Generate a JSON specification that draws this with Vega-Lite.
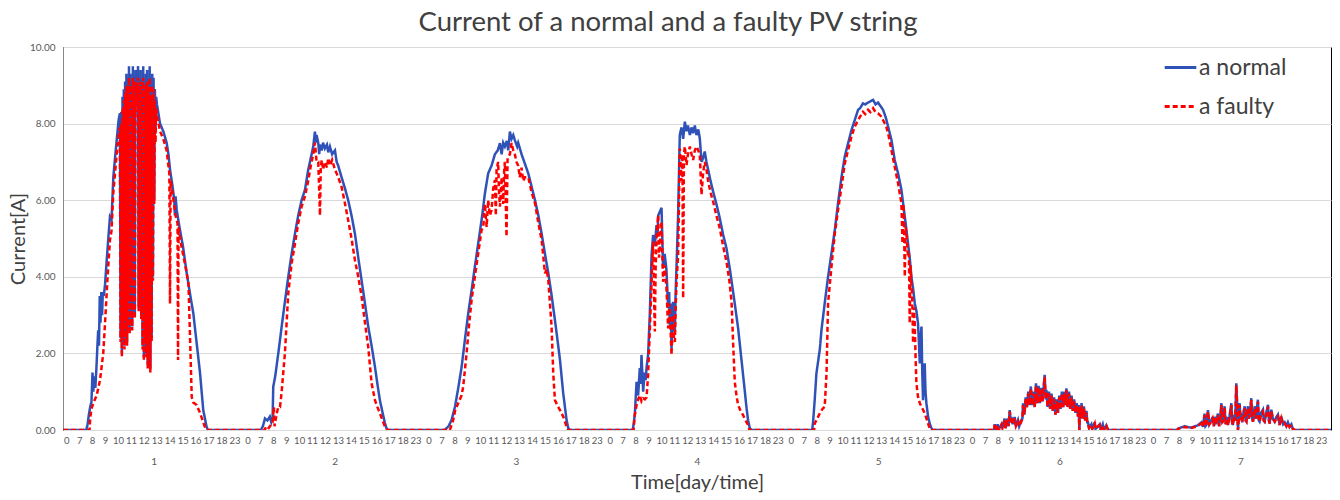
{
"$schema":"https://vega.github.io/schema/vega-lite/v6.json",
"width":1268,"height":383,
"autosize":{"type":"none"},
"padding":{"left":63,"top":47,"right":9,"bottom":70},
"background":"white",
"config":{"font":"Lato","view":{"stroke":"#000","strokeWidth":1}},
"title":{"text":"Current of a normal and a faulty PV string","fontSize":27.5,"font":"Lato","fontWeight":"normal","color":"#404040","dx":-29,"offset":6},
"data":{"values":[
{"s":"a normal","t":0,"v":0},{"s":"a normal","t":1.8,"v":0},{"s":"a normal","t":1.9,"v":0.15},{"s":"a normal","t":2.0,"v":0.4},{"s":"a normal","t":2.1,"v":0.6},{"s":"a normal","t":2.2,"v":0.74},{"s":"a normal","t":2.28,"v":1.5},{"s":"a normal","t":2.34,"v":1.0},{"s":"a normal","t":2.42,"v":1.4},{"s":"a normal","t":2.5,"v":1.1},{"s":"a normal","t":2.58,"v":1.6},{"s":"a normal","t":2.66,"v":2.2},{"s":"a normal","t":2.72,"v":2.6},{"s":"a normal","t":2.78,"v":2.2},{"s":"a normal","t":2.84,"v":3.5},{"s":"a normal","t":2.9,"v":2.8},{"s":"a normal","t":2.96,"v":3.6},{"s":"a normal","t":3.02,"v":3.0},{"s":"a normal","t":3.08,"v":3.6},{"s":"a normal","t":3.15,"v":3.5},{"s":"a normal","t":3.25,"v":3.8},{"s":"a normal","t":3.38,"v":4.44},{"s":"a normal","t":3.5,"v":5.0},{"s":"a normal","t":3.63,"v":5.57},{"s":"a normal","t":3.75,"v":5.5},{"s":"a normal","t":3.89,"v":6.6},{"s":"a normal","t":4.02,"v":7.1},{"s":"a normal","t":4.15,"v":7.57},{"s":"a normal","t":4.3,"v":8.1},{"s":"a normal","t":4.4,"v":8.27},
{"s":"a normal","t":4.45,"v":2.4},{"s":"a normal","t":4.5,"v":8.3},{"s":"a normal","t":4.55,"v":2.0},{"s":"a normal","t":4.6,"v":8.7},{"s":"a normal","t":4.65,"v":2.6},{"s":"a normal","t":4.7,"v":8.9},{"s":"a normal","t":4.75,"v":2.2},{"s":"a normal","t":4.8,"v":9.1},{"s":"a normal","t":4.85,"v":3.0},{"s":"a normal","t":4.9,"v":9.3},{"s":"a normal","t":4.95,"v":2.3},{"s":"a normal","t":5.0,"v":9.2},{"s":"a normal","t":5.05,"v":3.5},{"s":"a normal","t":5.1,"v":9.5},{"s":"a normal","t":5.15,"v":2.6},{"s":"a normal","t":5.2,"v":9.3},{"s":"a normal","t":5.25,"v":4.0},{"s":"a normal","t":5.3,"v":9.1},{"s":"a normal","t":5.35,"v":2.7},{"s":"a normal","t":5.4,"v":9.5},{"s":"a normal","t":5.45,"v":5.5},{"s":"a normal","t":5.5,"v":9.0},{"s":"a normal","t":5.55,"v":3.0},{"s":"a normal","t":5.6,"v":9.4},{"s":"a normal","t":5.65,"v":8.6},{"s":"a normal","t":5.7,"v":9.3},{"s":"a normal","t":5.75,"v":8.8},{"s":"a normal","t":5.8,"v":9.5},{"s":"a normal","t":5.85,"v":3.2},{"s":"a normal","t":5.9,"v":9.2},{"s":"a normal","t":5.95,"v":4.5},{"s":"a normal","t":6.0,"v":9.4},{"s":"a normal","t":6.05,"v":3.0},{"s":"a normal","t":6.1,"v":9.1},{"s":"a normal","t":6.15,"v":2.2},{"s":"a normal","t":6.2,"v":9.5},{"s":"a normal","t":6.25,"v":1.9},{"s":"a normal","t":6.3,"v":9.0},{"s":"a normal","t":6.35,"v":2.4},{"s":"a normal","t":6.4,"v":9.3},{"s":"a normal","t":6.45,"v":2.0},{"s":"a normal","t":6.5,"v":9.4},{"s":"a normal","t":6.55,"v":1.7},{"s":"a normal","t":6.6,"v":9.1},{"s":"a normal","t":6.65,"v":2.8},{"s":"a normal","t":6.7,"v":9.5},{"s":"a normal","t":6.75,"v":1.6},{"s":"a normal","t":6.8,"v":9.0},{"s":"a normal","t":6.85,"v":2.4},{"s":"a normal","t":6.9,"v":9.3},{"s":"a normal","t":6.95,"v":4.0},{"s":"a normal","t":7.0,"v":9.2},{"s":"a normal","t":7.05,"v":6.0},{"s":"a normal","t":7.1,"v":8.9},{"s":"a normal","t":7.15,"v":7.8},{"s":"a normal","t":7.2,"v":8.7},
{"s":"a normal","t":7.26,"v":8.5},{"s":"a normal","t":7.5,"v":8.0},{"s":"a normal","t":7.75,"v":7.8},{"s":"a normal","t":8.01,"v":7.5},{"s":"a normal","t":8.15,"v":7.2},{"s":"a normal","t":8.27,"v":6.8},{"s":"a normal","t":8.45,"v":6.4},{"s":"a normal","t":8.6,"v":6.0},{"s":"a normal","t":8.65,"v":5.6},{"s":"a normal","t":8.7,"v":6.1},{"s":"a normal","t":8.79,"v":5.74},{"s":"a normal","t":9.0,"v":5.3},{"s":"a normal","t":9.27,"v":4.8},{"s":"a normal","t":9.56,"v":4.1},{"s":"a normal","t":9.81,"v":3.57},{"s":"a normal","t":10.07,"v":3.05},{"s":"a normal","t":10.33,"v":2.27},{"s":"a normal","t":10.59,"v":1.49},{"s":"a normal","t":10.84,"v":0.52},{"s":"a normal","t":11.1,"v":0.08},{"s":"a normal","t":11.2,"v":0},
{"s":"a normal","t":15.3,"v":0},{"s":"a normal","t":15.45,"v":0.1},{"s":"a normal","t":15.61,"v":0.3},{"s":"a normal","t":15.8,"v":0.25},{"s":"a normal","t":15.99,"v":0.35},{"s":"a normal","t":16.1,"v":0.2},{"s":"a normal","t":16.2,"v":0.3},{"s":"a normal","t":16.25,"v":1.13},{"s":"a normal","t":16.4,"v":1.4},{"s":"a normal","t":16.64,"v":2.0},{"s":"a normal","t":16.9,"v":2.7},{"s":"a normal","t":17.15,"v":3.35},{"s":"a normal","t":17.41,"v":4.0},{"s":"a normal","t":17.67,"v":4.6},{"s":"a normal","t":17.93,"v":5.13},{"s":"a normal","t":18.18,"v":5.6},{"s":"a normal","t":18.44,"v":6.0},{"s":"a normal","t":18.7,"v":6.27},{"s":"a normal","t":18.95,"v":6.79},{"s":"a normal","t":19.15,"v":7.1},{"s":"a normal","t":19.34,"v":7.4},{"s":"a normal","t":19.47,"v":7.79},{"s":"a normal","t":19.55,"v":7.5},{"s":"a normal","t":19.6,"v":7.7},{"s":"a normal","t":19.73,"v":7.49},{"s":"a normal","t":19.8,"v":7.2},{"s":"a normal","t":19.86,"v":7.45},{"s":"a normal","t":19.99,"v":7.3},{"s":"a normal","t":20.1,"v":7.5},{"s":"a normal","t":20.24,"v":7.35},{"s":"a normal","t":20.4,"v":7.45},{"s":"a normal","t":20.5,"v":7.25},{"s":"a normal","t":20.63,"v":7.4},{"s":"a normal","t":20.8,"v":7.2},{"s":"a normal","t":21.02,"v":7.3},{"s":"a normal","t":21.15,"v":7.0},{"s":"a normal","t":21.27,"v":6.9},{"s":"a normal","t":21.53,"v":6.6},{"s":"a normal","t":21.8,"v":6.3},{"s":"a normal","t":22.04,"v":6.0},{"s":"a normal","t":22.3,"v":5.6},{"s":"a normal","t":22.56,"v":5.13},{"s":"a normal","t":22.82,"v":4.5},{"s":"a normal","t":23.08,"v":3.9},{"s":"a normal","t":23.34,"v":3.3},{"s":"a normal","t":23.59,"v":2.7},{"s":"a normal","t":23.85,"v":2.2},{"s":"a normal","t":24.11,"v":1.65},{"s":"a normal","t":24.3,"v":1.2},{"s":"a normal","t":24.49,"v":0.78},{"s":"a normal","t":24.7,"v":0.45},{"s":"a normal","t":24.88,"v":0.18},{"s":"a normal","t":25.0,"v":0.05},{"s":"a normal","t":25.1,"v":0},
{"s":"a normal","t":29.5,"v":0},{"s":"a normal","t":29.8,"v":0.1},{"s":"a normal","t":30.03,"v":0.26},{"s":"a normal","t":30.29,"v":0.6},{"s":"a normal","t":30.55,"v":1.1},{"s":"a normal","t":30.81,"v":1.65},{"s":"a normal","t":31.06,"v":2.35},{"s":"a normal","t":31.32,"v":3.05},{"s":"a normal","t":31.58,"v":3.65},{"s":"a normal","t":31.83,"v":4.26},{"s":"a normal","t":32.09,"v":4.87},{"s":"a normal","t":32.35,"v":5.48},{"s":"a normal","t":32.61,"v":6.18},{"s":"a normal","t":32.86,"v":6.7},{"s":"a normal","t":33.12,"v":6.9},{"s":"a normal","t":33.38,"v":7.2},{"s":"a normal","t":33.6,"v":7.3},{"s":"a normal","t":33.77,"v":7.49},{"s":"a normal","t":33.9,"v":7.2},{"s":"a normal","t":34.02,"v":7.5},{"s":"a normal","t":34.15,"v":7.4},{"s":"a normal","t":34.3,"v":7.55},{"s":"a normal","t":34.41,"v":7.3},{"s":"a normal","t":34.54,"v":7.79},{"s":"a normal","t":34.67,"v":7.6},{"s":"a normal","t":34.8,"v":7.7},{"s":"a normal","t":34.92,"v":7.57},{"s":"a normal","t":35.1,"v":7.4},{"s":"a normal","t":35.18,"v":7.5},{"s":"a normal","t":35.44,"v":7.2},{"s":"a normal","t":35.7,"v":6.95},{"s":"a normal","t":35.96,"v":6.7},{"s":"a normal","t":36.22,"v":6.35},{"s":"a normal","t":36.48,"v":6.0},{"s":"a normal","t":36.74,"v":5.6},{"s":"a normal","t":36.99,"v":5.13},{"s":"a normal","t":37.25,"v":4.6},{"s":"a normal","t":37.51,"v":4.09},{"s":"a normal","t":37.77,"v":3.5},{"s":"a normal","t":38.02,"v":2.87},{"s":"a normal","t":38.2,"v":2.4},{"s":"a normal","t":38.41,"v":1.83},{"s":"a normal","t":38.66,"v":0.96},{"s":"a normal","t":38.92,"v":0.26},{"s":"a normal","t":39.05,"v":0.05},{"s":"a normal","t":39.17,"v":0},
{"s":"a normal","t":44.0,"v":0},{"s":"a normal","t":44.06,"v":0.05},{"s":"a normal","t":44.19,"v":0.39},{"s":"a normal","t":44.33,"v":1.26},{"s":"a normal","t":44.45,"v":0.9},{"s":"a normal","t":44.58,"v":1.62},{"s":"a normal","t":44.65,"v":1.2},{"s":"a normal","t":44.71,"v":1.96},{"s":"a normal","t":44.84,"v":1.0},{"s":"a normal","t":44.95,"v":1.5},{"s":"a normal","t":45.03,"v":1.3},{"s":"a normal","t":45.1,"v":1.62},{"s":"a normal","t":45.22,"v":1.96},{"s":"a normal","t":45.35,"v":3.0},{"s":"a normal","t":45.49,"v":4.57},{"s":"a normal","t":45.61,"v":5.09},{"s":"a normal","t":45.74,"v":4.8},{"s":"a normal","t":45.87,"v":5.35},{"s":"a normal","t":45.95,"v":5.1},{"s":"a normal","t":46.0,"v":5.6},{"s":"a normal","t":46.13,"v":5.7},{"s":"a normal","t":46.26,"v":5.8},{"s":"a normal","t":46.32,"v":5.0},{"s":"a normal","t":46.38,"v":4.23},{"s":"a normal","t":46.5,"v":4.6},{"s":"a normal","t":46.64,"v":4.18},{"s":"a normal","t":46.77,"v":3.18},{"s":"a normal","t":46.85,"v":3.6},{"s":"a normal","t":46.9,"v":2.74},{"s":"a normal","t":46.97,"v":3.3},{"s":"a normal","t":47.03,"v":2.13},{"s":"a normal","t":47.1,"v":2.9},{"s":"a normal","t":47.15,"v":3.35},{"s":"a normal","t":47.22,"v":2.6},{"s":"a normal","t":47.29,"v":2.57},{"s":"a normal","t":47.35,"v":3.6},{"s":"a normal","t":47.42,"v":4.3},{"s":"a normal","t":47.54,"v":5.61},{"s":"a normal","t":47.67,"v":7.7},{"s":"a normal","t":47.8,"v":7.9},{"s":"a normal","t":47.93,"v":7.6},{"s":"a normal","t":48.06,"v":8.05},{"s":"a normal","t":48.19,"v":7.8},{"s":"a normal","t":48.3,"v":7.95},{"s":"a normal","t":48.45,"v":7.7},{"s":"a normal","t":48.58,"v":7.9},{"s":"a normal","t":48.7,"v":7.75},{"s":"a normal","t":48.83,"v":7.95},{"s":"a normal","t":48.96,"v":7.7},{"s":"a normal","t":49.1,"v":7.85},{"s":"a normal","t":49.22,"v":7.6},{"s":"a normal","t":49.35,"v":7.0},{"s":"a normal","t":49.47,"v":7.1},{"s":"a normal","t":49.6,"v":7.27},{"s":"a normal","t":49.73,"v":7.0},{"s":"a normal","t":49.86,"v":6.8},{"s":"a normal","t":50.05,"v":6.5},{"s":"a normal","t":50.25,"v":6.22},{"s":"a normal","t":50.5,"v":5.9},{"s":"a normal","t":50.76,"v":5.53},{"s":"a normal","t":51.02,"v":5.1},{"s":"a normal","t":51.28,"v":4.74},{"s":"a normal","t":51.54,"v":4.2},{"s":"a normal","t":51.79,"v":3.61},{"s":"a normal","t":52.0,"v":3.1},{"s":"a normal","t":52.18,"v":2.65},{"s":"a normal","t":52.37,"v":2.05},{"s":"a normal","t":52.56,"v":1.44},{"s":"a normal","t":52.7,"v":1.0},{"s":"a normal","t":52.83,"v":0.57},{"s":"a normal","t":52.95,"v":0.25},{"s":"a normal","t":53.08,"v":0.05},{"s":"a normal","t":53.2,"v":0},
{"s":"a normal","t":57.9,"v":0},{"s":"a normal","t":57.97,"v":0.2},{"s":"a normal","t":58.1,"v":0.8},{"s":"a normal","t":58.23,"v":1.48},{"s":"a normal","t":58.49,"v":2.1},{"s":"a normal","t":58.62,"v":2.61},{"s":"a normal","t":58.87,"v":3.31},{"s":"a normal","t":59.13,"v":4.0},{"s":"a normal","t":59.39,"v":4.61},{"s":"a normal","t":59.65,"v":5.22},{"s":"a normal","t":59.9,"v":5.92},{"s":"a normal","t":60.17,"v":6.61},{"s":"a normal","t":60.42,"v":7.14},{"s":"a normal","t":60.68,"v":7.49},{"s":"a normal","t":60.94,"v":7.83},{"s":"a normal","t":61.19,"v":8.09},{"s":"a normal","t":61.45,"v":8.36},{"s":"a normal","t":61.6,"v":8.4},{"s":"a normal","t":61.83,"v":8.53},{"s":"a normal","t":62.0,"v":8.5},{"s":"a normal","t":62.22,"v":8.55},{"s":"a normal","t":62.4,"v":8.58},{"s":"a normal","t":62.61,"v":8.62},{"s":"a normal","t":62.8,"v":8.5},{"s":"a normal","t":62.99,"v":8.55},{"s":"a normal","t":63.2,"v":8.45},{"s":"a normal","t":63.38,"v":8.36},{"s":"a normal","t":63.6,"v":8.15},{"s":"a normal","t":63.77,"v":7.92},{"s":"a normal","t":64.03,"v":7.57},{"s":"a normal","t":64.28,"v":7.05},{"s":"a normal","t":64.54,"v":6.7},{"s":"a normal","t":64.8,"v":6.27},{"s":"a normal","t":65.06,"v":5.57},{"s":"a normal","t":65.19,"v":5.22},{"s":"a normal","t":65.31,"v":4.87},{"s":"a normal","t":65.44,"v":4.5},{"s":"a normal","t":65.57,"v":4.0},{"s":"a normal","t":65.7,"v":3.7},{"s":"a normal","t":65.83,"v":3.31},{"s":"a normal","t":65.96,"v":3.1},{"s":"a normal","t":66.08,"v":2.79},{"s":"a normal","t":66.15,"v":2.3},{"s":"a normal","t":66.22,"v":1.74},{"s":"a normal","t":66.28,"v":2.4},{"s":"a normal","t":66.35,"v":2.7},{"s":"a normal","t":66.41,"v":1.5},{"s":"a normal","t":66.47,"v":0.78},{"s":"a normal","t":66.53,"v":1.3},{"s":"a normal","t":66.6,"v":1.74},{"s":"a normal","t":66.66,"v":1.0},{"s":"a normal","t":66.73,"v":0.7},{"s":"a normal","t":66.86,"v":0.35},{"s":"a normal","t":67.0,"v":0.15},{"s":"a normal","t":67.12,"v":0.05},{"s":"a normal","t":67.2,"v":0},
{"s":"a normal","t":71.95,"v":0},{"s":"a normal","t":72.01,"v":0.15},{"s":"a normal","t":72.1,"v":0},{"s":"a normal","t":72.24,"v":0.15},{"s":"a normal","t":72.3,"v":0},{"s":"a normal","t":72.53,"v":0.15},{"s":"a normal","t":72.6,"v":0.05},{"s":"a normal","t":72.78,"v":0.3},{"s":"a normal","t":72.85,"v":0.05},{"s":"a normal","t":73.01,"v":0.3},{"s":"a normal","t":73.08,"v":0.1},{"s":"a normal","t":73.17,"v":0.52},{"s":"a normal","t":73.25,"v":0.2},{"s":"a normal","t":73.3,"v":0.34},{"s":"a normal","t":73.4,"v":0.15},{"s":"a normal","t":73.55,"v":0.34},{"s":"a normal","t":73.65,"v":0.1},{"s":"a normal","t":73.81,"v":0.26},{"s":"a normal","t":73.9,"v":0.1},{"s":"a normal","t":74.07,"v":0.26},{"s":"a normal","t":74.15,"v":0.3},{"s":"a normal","t":74.2,"v":0.7},{"s":"a normal","t":74.3,"v":0.4},{"s":"a normal","t":74.4,"v":0.85},{"s":"a normal","t":74.5,"v":0.6},{"s":"a normal","t":74.6,"v":1.0},{"s":"a normal","t":74.7,"v":0.65},{"s":"a normal","t":74.8,"v":1.14},{"s":"a normal","t":74.9,"v":0.65},{"s":"a normal","t":75.0,"v":1.0},{"s":"a normal","t":75.1,"v":0.6},{"s":"a normal","t":75.2,"v":1.22},{"s":"a normal","t":75.3,"v":0.7},{"s":"a normal","t":75.4,"v":1.15},{"s":"a normal","t":75.5,"v":0.7},{"s":"a normal","t":75.6,"v":1.1},{"s":"a normal","t":75.7,"v":0.75},{"s":"a normal","t":75.87,"v":1.44},{"s":"a normal","t":75.95,"v":0.8},{"s":"a normal","t":76.0,"v":1.05},{"s":"a normal","t":76.1,"v":0.6},{"s":"a normal","t":76.2,"v":1.0},{"s":"a normal","t":76.3,"v":0.55},{"s":"a normal","t":76.4,"v":0.95},{"s":"a normal","t":76.5,"v":0.5},{"s":"a normal","t":76.6,"v":0.85},{"s":"a normal","t":76.7,"v":0.4},{"s":"a normal","t":76.8,"v":0.8},{"s":"a normal","t":76.9,"v":0.45},{"s":"a normal","t":77.0,"v":0.9},{"s":"a normal","t":77.1,"v":0.55},{"s":"a normal","t":77.2,"v":1.0},{"s":"a normal","t":77.3,"v":0.6},{"s":"a normal","t":77.4,"v":1.0},{"s":"a normal","t":77.5,"v":0.65},{"s":"a normal","t":77.55,"v":1.09},{"s":"a normal","t":77.65,"v":0.6},{"s":"a normal","t":77.75,"v":1.0},{"s":"a normal","t":77.85,"v":0.55},{"s":"a normal","t":77.95,"v":0.9},{"s":"a normal","t":78.05,"v":0.5},{"s":"a normal","t":78.15,"v":0.8},{"s":"a normal","t":78.25,"v":0.45},{"s":"a normal","t":78.35,"v":0.7},{"s":"a normal","t":78.45,"v":0.35},{"s":"a normal","t":78.5,"v":0.65},{"s":"a normal","t":78.55,"v":0.0},{"s":"a normal","t":78.6,"v":0.6},{"s":"a normal","t":78.65,"v":0.3},{"s":"a normal","t":78.72,"v":0.7},{"s":"a normal","t":78.8,"v":0.3},{"s":"a normal","t":78.9,"v":0.62},{"s":"a normal","t":79.0,"v":0.25},{"s":"a normal","t":79.1,"v":0.5},{"s":"a normal","t":79.16,"v":0.2},{"s":"a normal","t":79.22,"v":0.2},{"s":"a normal","t":79.3,"v":0.05},{"s":"a normal","t":79.48,"v":0.15},{"s":"a normal","t":79.55,"v":0.03},{"s":"a normal","t":79.74,"v":0.2},{"s":"a normal","t":79.8,"v":0.03},{"s":"a normal","t":80.12,"v":0.15},{"s":"a normal","t":80.2,"v":0},{"s":"a normal","t":80.36,"v":0.15},{"s":"a normal","t":80.45,"v":0},{"s":"a normal","t":80.64,"v":0.12},{"s":"a normal","t":80.77,"v":0},
{"s":"a normal","t":86.1,"v":0},{"s":"a normal","t":86.2,"v":0.04},{"s":"a normal","t":86.7,"v":0.1},{"s":"a normal","t":87.15,"v":0.06},{"s":"a normal","t":87.7,"v":0.12},{"s":"a normal","t":87.98,"v":0.2},{"s":"a normal","t":88.1,"v":0.08},{"s":"a normal","t":88.23,"v":0.43},{"s":"a normal","t":88.3,"v":0.1},{"s":"a normal","t":88.37,"v":0.13},{"s":"a normal","t":88.49,"v":0.52},{"s":"a normal","t":88.6,"v":0.15},{"s":"a normal","t":88.75,"v":0.25},{"s":"a normal","t":88.85,"v":0.34},{"s":"a normal","t":88.95,"v":0.1},{"s":"a normal","t":89.01,"v":0.35},{"s":"a normal","t":89.1,"v":0.15},{"s":"a normal","t":89.26,"v":0.43},{"s":"a normal","t":89.35,"v":0.1},{"s":"a normal","t":89.45,"v":0.34},{"s":"a normal","t":89.53,"v":0.7},{"s":"a normal","t":89.6,"v":0.2},{"s":"a normal","t":89.65,"v":0.25},{"s":"a normal","t":89.78,"v":0.62},{"s":"a normal","t":89.85,"v":0.15},{"s":"a normal","t":89.95,"v":0.34},{"s":"a normal","t":90.04,"v":0.13},{"s":"a normal","t":90.15,"v":0.34},{"s":"a normal","t":90.3,"v":0.7},{"s":"a normal","t":90.36,"v":0.2},{"s":"a normal","t":90.42,"v":0.13},{"s":"a normal","t":90.5,"v":0.4},{"s":"a normal","t":90.6,"v":0.25},{"s":"a normal","t":90.68,"v":1.22},{"s":"a normal","t":90.75,"v":0.65},{"s":"a normal","t":90.81,"v":0},{"s":"a normal","t":90.88,"v":0.34},{"s":"a normal","t":90.94,"v":0.7},{"s":"a normal","t":91.0,"v":0.3},{"s":"a normal","t":91.07,"v":0.35},{"s":"a normal","t":91.15,"v":0.2},{"s":"a normal","t":91.25,"v":0.5},{"s":"a normal","t":91.33,"v":0.62},{"s":"a normal","t":91.4,"v":0.25},{"s":"a normal","t":91.46,"v":0.22},{"s":"a normal","t":91.52,"v":0.45},{"s":"a normal","t":91.58,"v":0.62},{"s":"a normal","t":91.65,"v":0.3},{"s":"a normal","t":91.75,"v":0.5},{"s":"a normal","t":91.84,"v":0.83},{"s":"a normal","t":91.9,"v":0.3},{"s":"a normal","t":91.97,"v":0.22},{"s":"a normal","t":92.05,"v":0.45},{"s":"a normal","t":92.1,"v":0.62},{"s":"a normal","t":92.2,"v":0.3},{"s":"a normal","t":92.35,"v":0.79},{"s":"a normal","t":92.42,"v":0.25},{"s":"a normal","t":92.48,"v":0.22},{"s":"a normal","t":92.6,"v":0.45},{"s":"a normal","t":92.74,"v":0.53},{"s":"a normal","t":92.8,"v":0.25},{"s":"a normal","t":92.87,"v":0.22},{"s":"a normal","t":93.0,"v":0.45},{"s":"a normal","t":93.13,"v":0.66},{"s":"a normal","t":93.2,"v":0.25},{"s":"a normal","t":93.26,"v":0.17},{"s":"a normal","t":93.39,"v":0.53},{"s":"a normal","t":93.5,"v":0.3},{"s":"a normal","t":93.65,"v":0.22},{"s":"a normal","t":93.78,"v":0.34},{"s":"a normal","t":93.9,"v":0.4},{"s":"a normal","t":94.03,"v":0.13},{"s":"a normal","t":94.16,"v":0.35},{"s":"a normal","t":94.3,"v":0.15},{"s":"a normal","t":94.42,"v":0.2},{"s":"a normal","t":94.55,"v":0.1},{"s":"a normal","t":94.67,"v":0.2},{"s":"a normal","t":94.8,"v":0.08},{"s":"a normal","t":94.94,"v":0.15},{"s":"a normal","t":95.05,"v":0.03},{"s":"a normal","t":95.19,"v":0},{"s":"a normal","t":98,"v":0},

{"s":"a faulty","t":0,"v":0},{"s":"a faulty","t":2.05,"v":0},{"s":"a faulty","t":2.1,"v":0.3},{"s":"a faulty","t":2.2,"v":0.55},{"s":"a faulty","t":2.34,"v":0.7},{"s":"a faulty","t":2.6,"v":0.9},{"s":"a faulty","t":2.86,"v":1.3},{"s":"a faulty","t":3.11,"v":2.0},{"s":"a faulty","t":3.25,"v":2.8},{"s":"a faulty","t":3.38,"v":3.6},{"s":"a faulty","t":3.5,"v":4.3},{"s":"a faulty","t":3.63,"v":4.96},{"s":"a faulty","t":3.75,"v":5.2},{"s":"a faulty","t":3.89,"v":6.2},{"s":"a faulty","t":4.02,"v":6.7},{"s":"a faulty","t":4.15,"v":7.2},{"s":"a faulty","t":4.3,"v":7.7},{"s":"a faulty","t":4.4,"v":7.9},
{"s":"a faulty","t":4.45,"v":2.3},{"s":"a faulty","t":4.5,"v":8.0},{"s":"a faulty","t":4.55,"v":1.9},{"s":"a faulty","t":4.6,"v":8.4},{"s":"a faulty","t":4.65,"v":2.5},{"s":"a faulty","t":4.7,"v":8.6},{"s":"a faulty","t":4.75,"v":2.1},{"s":"a faulty","t":4.8,"v":8.8},{"s":"a faulty","t":4.85,"v":2.9},{"s":"a faulty","t":4.9,"v":9.0},{"s":"a faulty","t":4.95,"v":2.2},{"s":"a faulty","t":5.0,"v":8.9},{"s":"a faulty","t":5.05,"v":3.4},{"s":"a faulty","t":5.1,"v":9.2},{"s":"a faulty","t":5.15,"v":2.5},{"s":"a faulty","t":5.2,"v":9.0},{"s":"a faulty","t":5.25,"v":3.9},{"s":"a faulty","t":5.3,"v":8.8},{"s":"a faulty","t":5.35,"v":2.6},{"s":"a faulty","t":5.4,"v":9.2},{"s":"a faulty","t":5.45,"v":5.4},{"s":"a faulty","t":5.5,"v":8.7},{"s":"a faulty","t":5.55,"v":2.9},{"s":"a faulty","t":5.6,"v":9.1},{"s":"a faulty","t":5.65,"v":8.3},{"s":"a faulty","t":5.7,"v":9.0},{"s":"a faulty","t":5.75,"v":8.5},{"s":"a faulty","t":5.8,"v":9.2},{"s":"a faulty","t":5.85,"v":3.1},{"s":"a faulty","t":5.9,"v":8.9},{"s":"a faulty","t":5.95,"v":4.4},{"s":"a faulty","t":6.0,"v":9.1},{"s":"a faulty","t":6.05,"v":2.9},{"s":"a faulty","t":6.1,"v":8.8},{"s":"a faulty","t":6.15,"v":2.1},{"s":"a faulty","t":6.2,"v":9.2},{"s":"a faulty","t":6.25,"v":1.8},{"s":"a faulty","t":6.3,"v":8.7},{"s":"a faulty","t":6.35,"v":2.3},{"s":"a faulty","t":6.4,"v":9.0},{"s":"a faulty","t":6.45,"v":1.9},{"s":"a faulty","t":6.5,"v":9.1},{"s":"a faulty","t":6.55,"v":1.6},{"s":"a faulty","t":6.6,"v":8.8},{"s":"a faulty","t":6.65,"v":2.7},{"s":"a faulty","t":6.7,"v":9.2},{"s":"a faulty","t":6.75,"v":1.5},{"s":"a faulty","t":6.8,"v":8.7},{"s":"a faulty","t":6.85,"v":2.3},{"s":"a faulty","t":6.9,"v":9.0},{"s":"a faulty","t":6.95,"v":3.9},{"s":"a faulty","t":7.0,"v":8.9},{"s":"a faulty","t":7.05,"v":5.9},{"s":"a faulty","t":7.1,"v":8.6},{"s":"a faulty","t":7.15,"v":7.5},{"s":"a faulty","t":7.2,"v":8.4},
{"s":"a faulty","t":7.26,"v":8.2},{"s":"a faulty","t":7.5,"v":7.8},{"s":"a faulty","t":7.75,"v":7.6},{"s":"a faulty","t":8.01,"v":7.3},{"s":"a faulty","t":8.15,"v":6.9},{"s":"a faulty","t":8.22,"v":6.7},{"s":"a faulty","t":8.27,"v":3.3},{"s":"a faulty","t":8.32,"v":6.5},{"s":"a faulty","t":8.5,"v":6.1},{"s":"a faulty","t":8.7,"v":5.6},{"s":"a faulty","t":8.85,"v":5.4},{"s":"a faulty","t":8.89,"v":1.83},{"s":"a faulty","t":8.93,"v":5.3},{"s":"a faulty","t":9.1,"v":4.9},{"s":"a faulty","t":9.27,"v":4.6},{"s":"a faulty","t":9.56,"v":4.1},{"s":"a faulty","t":9.7,"v":3.8},{"s":"a faulty","t":9.95,"v":0.86},{"s":"a faulty","t":10.07,"v":0.72},{"s":"a faulty","t":10.33,"v":0.65},{"s":"a faulty","t":10.59,"v":0.45},{"s":"a faulty","t":10.84,"v":0.2},{"s":"a faulty","t":11.0,"v":0.05},{"s":"a faulty","t":11.1,"v":0},
{"s":"a faulty","t":15.6,"v":0},{"s":"a faulty","t":15.7,"v":0.1},{"s":"a faulty","t":15.9,"v":0.05},{"s":"a faulty","t":16.2,"v":0.2},{"s":"a faulty","t":16.3,"v":0.6},{"s":"a faulty","t":16.35,"v":0.1},{"s":"a faulty","t":16.5,"v":0.4},{"s":"a faulty","t":16.64,"v":0.6},{"s":"a faulty","t":16.77,"v":0.6},{"s":"a faulty","t":16.9,"v":1.0},{"s":"a faulty","t":17.15,"v":2.0},{"s":"a faulty","t":17.41,"v":3.57},{"s":"a faulty","t":17.67,"v":4.35},{"s":"a faulty","t":17.93,"v":4.87},{"s":"a faulty","t":18.18,"v":5.4},{"s":"a faulty","t":18.44,"v":5.83},{"s":"a faulty","t":18.7,"v":6.1},{"s":"a faulty","t":18.95,"v":6.5},{"s":"a faulty","t":19.15,"v":6.9},{"s":"a faulty","t":19.34,"v":7.2},{"s":"a faulty","t":19.47,"v":7.5},{"s":"a faulty","t":19.6,"v":7.0},{"s":"a faulty","t":19.73,"v":7.0},{"s":"a faulty","t":19.86,"v":5.6},{"s":"a faulty","t":19.92,"v":6.8},{"s":"a faulty","t":19.99,"v":7.05},{"s":"a faulty","t":20.1,"v":6.8},{"s":"a faulty","t":20.24,"v":7.0},{"s":"a faulty","t":20.4,"v":6.85},{"s":"a faulty","t":20.5,"v":7.1},{"s":"a faulty","t":20.63,"v":6.9},{"s":"a faulty","t":20.8,"v":7.05},{"s":"a faulty","t":21.02,"v":6.8},{"s":"a faulty","t":21.15,"v":6.7},{"s":"a faulty","t":21.27,"v":6.6},{"s":"a faulty","t":21.53,"v":6.35},{"s":"a faulty","t":21.8,"v":5.9},{"s":"a faulty","t":22.04,"v":5.48},{"s":"a faulty","t":22.3,"v":5.0},{"s":"a faulty","t":22.56,"v":4.44},{"s":"a faulty","t":22.82,"v":4.0},{"s":"a faulty","t":23.08,"v":3.48},{"s":"a faulty","t":23.34,"v":2.8},{"s":"a faulty","t":23.59,"v":2.17},{"s":"a faulty","t":23.85,"v":1.22},{"s":"a faulty","t":24.11,"v":0.78},{"s":"a faulty","t":24.3,"v":0.6},{"s":"a faulty","t":24.49,"v":0.44},{"s":"a faulty","t":24.7,"v":0.25},{"s":"a faulty","t":24.88,"v":0.09},{"s":"a faulty","t":25.0,"v":0.03},{"s":"a faulty","t":25.1,"v":0},
{"s":"a faulty","t":29.9,"v":0},{"s":"a faulty","t":30.16,"v":0.26},{"s":"a faulty","t":30.3,"v":0.5},{"s":"a faulty","t":30.54,"v":0.7},{"s":"a faulty","t":30.8,"v":0.9},{"s":"a faulty","t":30.93,"v":1.13},{"s":"a faulty","t":31.19,"v":2.0},{"s":"a faulty","t":31.4,"v":2.8},{"s":"a faulty","t":31.58,"v":3.4},{"s":"a faulty","t":31.83,"v":4.0},{"s":"a faulty","t":32.09,"v":4.61},{"s":"a faulty","t":32.35,"v":5.22},{"s":"a faulty","t":32.48,"v":5.3},{"s":"a faulty","t":32.61,"v":5.9},{"s":"a faulty","t":32.74,"v":5.3},{"s":"a faulty","t":32.86,"v":6.0},{"s":"a faulty","t":32.99,"v":5.6},{"s":"a faulty","t":33.12,"v":5.74},{"s":"a faulty","t":33.25,"v":6.3},{"s":"a faulty","t":33.38,"v":6.53},{"s":"a faulty","t":33.45,"v":5.6},{"s":"a faulty","t":33.51,"v":6.8},{"s":"a faulty","t":33.63,"v":7.0},{"s":"a faulty","t":33.7,"v":6.2},{"s":"a faulty","t":33.77,"v":5.83},{"s":"a faulty","t":33.9,"v":6.6},{"s":"a faulty","t":34.02,"v":5.9},{"s":"a faulty","t":34.1,"v":6.8},{"s":"a faulty","t":34.15,"v":7.0},{"s":"a faulty","t":34.28,"v":5.05},{"s":"a faulty","t":34.36,"v":7.1},{"s":"a faulty","t":34.54,"v":7.2},{"s":"a faulty","t":34.67,"v":7.49},{"s":"a faulty","t":34.8,"v":7.3},{"s":"a faulty","t":34.92,"v":7.2},{"s":"a faulty","t":35.05,"v":7.0},{"s":"a faulty","t":35.18,"v":6.9},{"s":"a faulty","t":35.3,"v":6.6},{"s":"a faulty","t":35.44,"v":6.85},{"s":"a faulty","t":35.57,"v":6.5},{"s":"a faulty","t":35.7,"v":6.6},{"s":"a faulty","t":35.96,"v":6.6},{"s":"a faulty","t":36.22,"v":6.2},{"s":"a faulty","t":36.48,"v":5.92},{"s":"a faulty","t":36.74,"v":5.4},{"s":"a faulty","t":36.99,"v":4.96},{"s":"a faulty","t":37.25,"v":4.09},{"s":"a faulty","t":37.38,"v":4.2},{"s":"a faulty","t":37.51,"v":3.9},{"s":"a faulty","t":37.76,"v":2.7},{"s":"a faulty","t":37.89,"v":1.48},{"s":"a faulty","t":38.02,"v":0.78},{"s":"a faulty","t":38.2,"v":0.65},{"s":"a faulty","t":38.41,"v":0.52},{"s":"a faulty","t":38.66,"v":0.35},{"s":"a faulty","t":38.92,"v":0.09},{"s":"a faulty","t":39.05,"v":0},
{"s":"a faulty","t":44.1,"v":0},{"s":"a faulty","t":44.19,"v":0.39},{"s":"a faulty","t":44.33,"v":0.65},{"s":"a faulty","t":44.45,"v":0.8},{"s":"a faulty","t":44.58,"v":0.91},{"s":"a faulty","t":44.71,"v":0.75},{"s":"a faulty","t":44.84,"v":0.83},{"s":"a faulty","t":44.97,"v":0.8},{"s":"a faulty","t":45.1,"v":0.85},{"s":"a faulty","t":45.22,"v":1.44},{"s":"a faulty","t":45.35,"v":2.57},{"s":"a faulty","t":45.49,"v":3.87},{"s":"a faulty","t":45.61,"v":4.92},{"s":"a faulty","t":45.68,"v":3.5},{"s":"a faulty","t":45.74,"v":2.57},{"s":"a faulty","t":45.8,"v":4.2},{"s":"a faulty","t":45.87,"v":5.0},{"s":"a faulty","t":46.0,"v":5.61},{"s":"a faulty","t":46.06,"v":4.5},{"s":"a faulty","t":46.13,"v":4.74},{"s":"a faulty","t":46.2,"v":5.2},{"s":"a faulty","t":46.26,"v":5.44},{"s":"a faulty","t":46.32,"v":4.6},{"s":"a faulty","t":46.38,"v":3.87},{"s":"a faulty","t":46.5,"v":4.3},{"s":"a faulty","t":46.64,"v":3.7},{"s":"a faulty","t":46.7,"v":3.2},{"s":"a faulty","t":46.77,"v":2.65},{"s":"a faulty","t":46.85,"v":3.3},{"s":"a faulty","t":46.9,"v":3.1},{"s":"a faulty","t":46.97,"v":2.5},{"s":"a faulty","t":47.03,"v":1.96},{"s":"a faulty","t":47.1,"v":2.6},{"s":"a faulty","t":47.15,"v":3.0},{"s":"a faulty","t":47.22,"v":2.4},{"s":"a faulty","t":47.29,"v":2.3},{"s":"a faulty","t":47.35,"v":3.2},{"s":"a faulty","t":47.42,"v":3.87},{"s":"a faulty","t":47.54,"v":4.57},{"s":"a faulty","t":47.67,"v":7.35},{"s":"a faulty","t":47.73,"v":7.0},{"s":"a faulty","t":47.8,"v":6.5},{"s":"a faulty","t":47.87,"v":7.2},{"s":"a faulty","t":47.93,"v":3.44},{"s":"a faulty","t":47.99,"v":7.2},{"s":"a faulty","t":48.06,"v":7.4},{"s":"a faulty","t":48.19,"v":6.92},{"s":"a faulty","t":48.3,"v":7.2},{"s":"a faulty","t":48.45,"v":7.4},{"s":"a faulty","t":48.58,"v":7.2},{"s":"a faulty","t":48.7,"v":7.05},{"s":"a faulty","t":48.83,"v":7.3},{"s":"a faulty","t":48.96,"v":7.4},{"s":"a faulty","t":49.1,"v":7.3},{"s":"a faulty","t":49.22,"v":7.14},{"s":"a faulty","t":49.35,"v":6.14},{"s":"a faulty","t":49.47,"v":6.7},{"s":"a faulty","t":49.6,"v":7.0},{"s":"a faulty","t":49.73,"v":6.8},{"s":"a faulty","t":49.86,"v":6.5},{"s":"a faulty","t":50.05,"v":6.2},{"s":"a faulty","t":50.25,"v":5.96},{"s":"a faulty","t":50.5,"v":5.6},{"s":"a faulty","t":50.76,"v":5.27},{"s":"a faulty","t":51.02,"v":4.8},{"s":"a faulty","t":51.28,"v":4.39},{"s":"a faulty","t":51.5,"v":3.9},{"s":"a faulty","t":51.67,"v":3.35},{"s":"a faulty","t":51.8,"v":2.2},{"s":"a faulty","t":51.92,"v":1.26},{"s":"a faulty","t":52.05,"v":0.9},{"s":"a faulty","t":52.18,"v":0.65},{"s":"a faulty","t":52.37,"v":0.5},{"s":"a faulty","t":52.56,"v":0.39},{"s":"a faulty","t":52.75,"v":0.25},{"s":"a faulty","t":52.95,"v":0.13},{"s":"a faulty","t":53.05,"v":0},
{"s":"a faulty","t":58.05,"v":0},{"s":"a faulty","t":58.1,"v":0.17},{"s":"a faulty","t":58.3,"v":0.3},{"s":"a faulty","t":58.49,"v":0.44},{"s":"a faulty","t":58.7,"v":0.55},{"s":"a faulty","t":58.87,"v":0.61},{"s":"a faulty","t":59.01,"v":1.48},{"s":"a faulty","t":59.13,"v":3.31},{"s":"a faulty","t":59.39,"v":4.26},{"s":"a faulty","t":59.65,"v":5.13},{"s":"a faulty","t":59.9,"v":5.74},{"s":"a faulty","t":60.17,"v":6.35},{"s":"a faulty","t":60.42,"v":6.96},{"s":"a faulty","t":60.68,"v":7.31},{"s":"a faulty","t":60.94,"v":7.66},{"s":"a faulty","t":61.19,"v":7.92},{"s":"a faulty","t":61.45,"v":8.09},{"s":"a faulty","t":61.83,"v":8.31},{"s":"a faulty","t":62.0,"v":8.25},{"s":"a faulty","t":62.22,"v":8.36},{"s":"a faulty","t":62.4,"v":8.3},{"s":"a faulty","t":62.61,"v":8.4},{"s":"a faulty","t":62.8,"v":8.3},{"s":"a faulty","t":62.99,"v":8.27},{"s":"a faulty","t":63.2,"v":8.2},{"s":"a faulty","t":63.38,"v":8.09},{"s":"a faulty","t":63.6,"v":7.95},{"s":"a faulty","t":63.77,"v":7.75},{"s":"a faulty","t":64.03,"v":7.31},{"s":"a faulty","t":64.28,"v":6.87},{"s":"a faulty","t":64.54,"v":6.44},{"s":"a faulty","t":64.8,"v":5.92},{"s":"a faulty","t":64.88,"v":4.87},{"s":"a faulty","t":64.94,"v":5.9},{"s":"a faulty","t":64.98,"v":5.74},{"s":"a faulty","t":65.06,"v":4.0},{"s":"a faulty","t":65.12,"v":5.3},{"s":"a faulty","t":65.19,"v":5.1},{"s":"a faulty","t":65.31,"v":4.52},{"s":"a faulty","t":65.38,"v":4.6},{"s":"a faulty","t":65.44,"v":2.79},{"s":"a faulty","t":65.5,"v":4.3},{"s":"a faulty","t":65.57,"v":3.83},{"s":"a faulty","t":65.63,"v":3.5},{"s":"a faulty","t":65.7,"v":2.27},{"s":"a faulty","t":65.76,"v":3.2},{"s":"a faulty","t":65.83,"v":2.79},{"s":"a faulty","t":65.9,"v":1.8},{"s":"a faulty","t":65.96,"v":1.22},{"s":"a faulty","t":66.08,"v":0.87},{"s":"a faulty","t":66.22,"v":0.7},{"s":"a faulty","t":66.35,"v":0.61},{"s":"a faulty","t":66.6,"v":0.44},{"s":"a faulty","t":66.86,"v":0.17},{"s":"a faulty","t":67.0,"v":0.03},{"s":"a faulty","t":67.1,"v":0},
{"s":"a faulty","t":71.95,"v":0},{"s":"a faulty","t":72.01,"v":0.13},{"s":"a faulty","t":72.1,"v":0},{"s":"a faulty","t":72.24,"v":0.13},{"s":"a faulty","t":72.3,"v":0},{"s":"a faulty","t":72.53,"v":0.13},{"s":"a faulty","t":72.6,"v":0.05},{"s":"a faulty","t":72.78,"v":0.26},{"s":"a faulty","t":72.85,"v":0.05},{"s":"a faulty","t":73.01,"v":0.26},{"s":"a faulty","t":73.08,"v":0.1},{"s":"a faulty","t":73.17,"v":0.48},{"s":"a faulty","t":73.25,"v":0.2},{"s":"a faulty","t":73.3,"v":0.3},{"s":"a faulty","t":73.4,"v":0.15},{"s":"a faulty","t":73.55,"v":0.3},{"s":"a faulty","t":73.65,"v":0.1},{"s":"a faulty","t":73.81,"v":0.22},{"s":"a faulty","t":73.9,"v":0.1},{"s":"a faulty","t":74.07,"v":0.22},{"s":"a faulty","t":74.15,"v":0.3},{"s":"a faulty","t":74.2,"v":0.65},{"s":"a faulty","t":74.3,"v":0.4},{"s":"a faulty","t":74.4,"v":0.8},{"s":"a faulty","t":74.5,"v":0.6},{"s":"a faulty","t":74.6,"v":0.95},{"s":"a faulty","t":74.7,"v":0.65},{"s":"a faulty","t":74.8,"v":1.09},{"s":"a faulty","t":74.9,"v":0.65},{"s":"a faulty","t":75.0,"v":0.95},{"s":"a faulty","t":75.1,"v":0.6},{"s":"a faulty","t":75.2,"v":1.17},{"s":"a faulty","t":75.3,"v":0.7},{"s":"a faulty","t":75.4,"v":1.1},{"s":"a faulty","t":75.5,"v":0.7},{"s":"a faulty","t":75.6,"v":1.05},{"s":"a faulty","t":75.7,"v":0.75},{"s":"a faulty","t":75.87,"v":1.39},{"s":"a faulty","t":75.95,"v":0.8},{"s":"a faulty","t":76.0,"v":1.0},{"s":"a faulty","t":76.1,"v":0.6},{"s":"a faulty","t":76.2,"v":0.95},{"s":"a faulty","t":76.3,"v":0.55},{"s":"a faulty","t":76.4,"v":0.9},{"s":"a faulty","t":76.5,"v":0.5},{"s":"a faulty","t":76.6,"v":0.8},{"s":"a faulty","t":76.7,"v":0.4},{"s":"a faulty","t":76.8,"v":0.75},{"s":"a faulty","t":76.9,"v":0.45},{"s":"a faulty","t":77.0,"v":0.85},{"s":"a faulty","t":77.1,"v":0.55},{"s":"a faulty","t":77.2,"v":0.95},{"s":"a faulty","t":77.3,"v":0.6},{"s":"a faulty","t":77.4,"v":0.95},{"s":"a faulty","t":77.5,"v":0.65},{"s":"a faulty","t":77.55,"v":1.04},{"s":"a faulty","t":77.65,"v":0.6},{"s":"a faulty","t":77.75,"v":0.95},{"s":"a faulty","t":77.85,"v":0.55},{"s":"a faulty","t":77.95,"v":0.85},{"s":"a faulty","t":78.05,"v":0.5},{"s":"a faulty","t":78.15,"v":0.75},{"s":"a faulty","t":78.25,"v":0.45},{"s":"a faulty","t":78.35,"v":0.65},{"s":"a faulty","t":78.45,"v":0.35},{"s":"a faulty","t":78.5,"v":0.6},{"s":"a faulty","t":78.55,"v":0.0},{"s":"a faulty","t":78.6,"v":0.55},{"s":"a faulty","t":78.65,"v":0.3},{"s":"a faulty","t":78.72,"v":0.65},{"s":"a faulty","t":78.8,"v":0.3},{"s":"a faulty","t":78.9,"v":0.57},{"s":"a faulty","t":79.0,"v":0.25},{"s":"a faulty","t":79.1,"v":0.45},{"s":"a faulty","t":79.16,"v":0.2},{"s":"a faulty","t":79.22,"v":0.17},{"s":"a faulty","t":79.3,"v":0.05},{"s":"a faulty","t":79.48,"v":0.13},{"s":"a faulty","t":79.55,"v":0.03},{"s":"a faulty","t":79.74,"v":0.17},{"s":"a faulty","t":79.8,"v":0.03},{"s":"a faulty","t":80.12,"v":0.13},{"s":"a faulty","t":80.2,"v":0},{"s":"a faulty","t":80.36,"v":0.13},{"s":"a faulty","t":80.45,"v":0},{"s":"a faulty","t":80.64,"v":0.1},{"s":"a faulty","t":80.77,"v":0},
{"s":"a faulty","t":86.1,"v":0},{"s":"a faulty","t":86.2,"v":0.03},{"s":"a faulty","t":86.7,"v":0.08},{"s":"a faulty","t":87.15,"v":0.05},{"s":"a faulty","t":87.7,"v":0.1},{"s":"a faulty","t":87.98,"v":0.17},{"s":"a faulty","t":88.1,"v":0.08},{"s":"a faulty","t":88.23,"v":0.39},{"s":"a faulty","t":88.3,"v":0.1},{"s":"a faulty","t":88.37,"v":0.13},{"s":"a faulty","t":88.49,"v":0.48},{"s":"a faulty","t":88.6,"v":0.15},{"s":"a faulty","t":88.75,"v":0.22},{"s":"a faulty","t":88.85,"v":0.3},{"s":"a faulty","t":88.95,"v":0.1},{"s":"a faulty","t":89.01,"v":0.31},{"s":"a faulty","t":89.1,"v":0.15},{"s":"a faulty","t":89.26,"v":0.39},{"s":"a faulty","t":89.35,"v":0.1},{"s":"a faulty","t":89.45,"v":0.3},{"s":"a faulty","t":89.53,"v":0.65},{"s":"a faulty","t":89.6,"v":0.2},{"s":"a faulty","t":89.65,"v":0.22},{"s":"a faulty","t":89.78,"v":0.57},{"s":"a faulty","t":89.85,"v":0.15},{"s":"a faulty","t":89.95,"v":0.3},{"s":"a faulty","t":90.04,"v":0.13},{"s":"a faulty","t":90.15,"v":0.3},{"s":"a faulty","t":90.3,"v":0.65},{"s":"a faulty","t":90.36,"v":0.2},{"s":"a faulty","t":90.42,"v":0.13},{"s":"a faulty","t":90.5,"v":0.35},{"s":"a faulty","t":90.6,"v":0.25},{"s":"a faulty","t":90.68,"v":1.17},{"s":"a faulty","t":90.75,"v":0.6},{"s":"a faulty","t":90.81,"v":0},{"s":"a faulty","t":90.88,"v":0.3},{"s":"a faulty","t":90.94,"v":0.65},{"s":"a faulty","t":91.0,"v":0.3},{"s":"a faulty","t":91.07,"v":0.31},{"s":"a faulty","t":91.15,"v":0.2},{"s":"a faulty","t":91.25,"v":0.45},{"s":"a faulty","t":91.33,"v":0.57},{"s":"a faulty","t":91.4,"v":0.25},{"s":"a faulty","t":91.46,"v":0.22},{"s":"a faulty","t":91.52,"v":0.4},{"s":"a faulty","t":91.58,"v":0.57},{"s":"a faulty","t":91.65,"v":0.3},{"s":"a faulty","t":91.75,"v":0.45},{"s":"a faulty","t":91.84,"v":0.78},{"s":"a faulty","t":91.9,"v":0.3},{"s":"a faulty","t":91.97,"v":0.22},{"s":"a faulty","t":92.05,"v":0.4},{"s":"a faulty","t":92.1,"v":0.57},{"s":"a faulty","t":92.2,"v":0.3},{"s":"a faulty","t":92.35,"v":0.74},{"s":"a faulty","t":92.42,"v":0.25},{"s":"a faulty","t":92.48,"v":0.22},{"s":"a faulty","t":92.6,"v":0.4},{"s":"a faulty","t":92.74,"v":0.48},{"s":"a faulty","t":92.8,"v":0.25},{"s":"a faulty","t":92.87,"v":0.22},{"s":"a faulty","t":93.0,"v":0.4},{"s":"a faulty","t":93.13,"v":0.61},{"s":"a faulty","t":93.2,"v":0.25},{"s":"a faulty","t":93.26,"v":0.17},{"s":"a faulty","t":93.39,"v":0.48},{"s":"a faulty","t":93.5,"v":0.3},{"s":"a faulty","t":93.65,"v":0.22},{"s":"a faulty","t":93.78,"v":0.3},{"s":"a faulty","t":93.9,"v":0.35},{"s":"a faulty","t":94.03,"v":0.13},{"s":"a faulty","t":94.16,"v":0.31},{"s":"a faulty","t":94.3,"v":0.15},{"s":"a faulty","t":94.42,"v":0.17},{"s":"a faulty","t":94.55,"v":0.1},{"s":"a faulty","t":94.67,"v":0.17},{"s":"a faulty","t":94.8,"v":0.08},{"s":"a faulty","t":94.94,"v":0.13},{"s":"a faulty","t":95.05,"v":0.03},{"s":"a faulty","t":95.19,"v":0},{"s":"a faulty","t":98,"v":0}
]},
"encoding":{
  "y":{"field":"v","type":"quantitative","scale":{"domain":[0,10],"nice":false,"zero":true},
       "axis":{"values":[0,2,4,6,8,10],"format":".2f","title":"Current[A]","titleFontSize":20,"titleFontWeight":"normal","titleColor":"#404040","titleFont":"Lato","titlePadding":1,"labelFontSize":10,"labelColor":"#595959","labelPadding":8,"ticks":false,"domain":true,"domainColor":"#888888","gridColor":"#d9d9d9","grid":true}},
  "color":{"field":"s","type":"nominal","scale":{"domain":["a normal","a faulty"],"range":["#2F52B8","#FF0000"]},
       "legend":{"title":null,"orient":"none","legendX":1100,"legendY":3,"labelFontSize":23,"labelColor":"#404040","labelFont":"Lato","symbolType":"stroke","symbolSize":1000,"symbolStrokeWidth":3,"rowPadding":9,"labelOffset":1}},
  "strokeDash":{"field":"s","type":"nominal","scale":{"domain":["a normal","a faulty"],"range":[[1,0],[5,3]]},
       "legend":{"title":null,"orient":"none","legendX":1100,"legendY":3,"labelFontSize":23,"labelColor":"#404040","labelFont":"Lato","symbolType":"stroke","symbolSize":1000,"symbolStrokeWidth":3,"rowPadding":9,"labelOffset":1}}
},
"layer":[
  {"transform":[{"filter":"datum.s == 'a normal'"}],
   "mark":{"type":"line","strokeWidth":2.5,"clip":true},
   "encoding":{"x":{"field":"t","type":"quantitative","scale":{"domain":[0,98],"nice":false,"zero":false},
     "axis":{"orient":"bottom","values":[0.25,1.25,2.25,3.25,4.25,5.25,6.25,7.25,8.25,9.25,10.25,11.25,12.25,13.25,14.25,15.25,16.25,17.25,18.25,19.25,20.25,21.25,22.25,23.25,24.25,25.25,26.25,27.25,28.25,29.25,30.25,31.25,32.25,33.25,34.25,35.25,36.25,37.25,38.25,39.25,40.25,41.25,42.25,43.25,44.25,45.25,46.25,47.25,48.25,49.25,50.25,51.25,52.25,53.25,54.25,55.25,56.25,57.25,58.25,59.25,60.25,61.25,62.25,63.25,64.25,65.25,66.25,67.25,68.25,69.25,70.25,71.25,72.25,73.25,74.25,75.25,76.25,77.25,78.25,79.25,80.25,81.25,82.25,83.25,84.25,85.25,86.25,87.25,88.25,89.25,90.25,91.25,92.25,93.25,94.25,95.25,96.25,97.25],
       "labelExpr":"['0','7','8','9','10','11','12','13','14','15','16','17','18','23'][floor(datum.value) % 14]",
       "labelOverlap":false,"labelFlush":false,"labelFontSize":9.5,"labelColor":"#595959","labelPadding":5,"ticks":false,"domain":false,"grid":false,"title":null}}}},
  {"transform":[{"filter":"datum.s == 'a faulty'"}],
   "mark":{"type":"line","strokeWidth":2.5,"clip":true},
   "encoding":{"x":{"field":"t","type":"quantitative","scale":{"domain":[0,98],"nice":false,"zero":false},
     "axis":{"orient":"bottom","offset":21,"values":[7,21,35,49,63,77,91],"labelExpr":"floor(datum.value / 14) + 1",
       "labelOverlap":false,"labelFlush":false,"labelFontSize":10,"labelColor":"#595959","labelPadding":5,"ticks":false,"domain":false,"grid":false,
       "title":"Time[day/time]","titleFontSize":20,"titleFontWeight":"normal","titleColor":"#404040","titleFont":"Lato","titlePadding":6}}}}
],
"resolve":{"axis":{"x":"independent"}}
}
